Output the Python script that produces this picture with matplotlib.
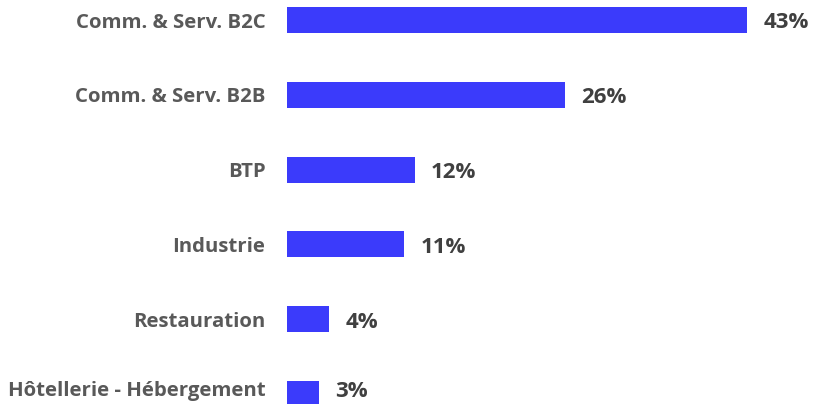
import matplotlib
matplotlib.use("Agg")
import matplotlib.pyplot as plt
from matplotlib.transforms import offset_copy

categories = ["Comm. & Serv. B2C", "Comm. & Serv. B2B", "BTP", "Industrie",
              "Restauration", "Hôtellerie - Hébergement"]
values = [43, 26, 12, 11, 4, 3]
value_labels = ["43%", "26%", "12%", "11%", "4%", "3%"]

plt.rcParams['font.family'] = ['Open Sans', 'DejaVu Sans']

W, H = 815, 404
fig = plt.figure(figsize=(W / 100, H / 100), dpi=100)
px_per_unit = 10.72
xmax = 48
ax = fig.add_axes([286.5 / W, 0, xmax * px_per_unit / W, 1])
ax.set_xlim(0, xmax)
ax.set_ylim((H - 20) / 74.8, -20 / 74.8)

ypos = list(range(len(categories)))
ax.barh(ypos, values, height=26 / 74.8, color="#3b3bfb", edgecolor="none")

n = len(categories)
for i, (cat, v, lab) in enumerate(zip(categories, values, value_labels)):
    lift = 5.5 if i == n - 1 else 0
    t1 = offset_copy(ax.transData, fig=fig, x=-21, y=-7.5 + lift, units='dots')
    t2 = offset_copy(ax.transData, fig=fig, x=16, y=-8.5 + lift, units='dots')
    ax.text(0, i, cat, transform=t1, ha='right', va='baseline',
            fontsize=14.7, fontweight='bold', color='#595959')
    ax.text(v, i, lab, transform=t2, ha='left', va='baseline',
            fontsize=16, fontweight='bold', color='#404040')

ax.axis('off')
fig.savefig("out.png", dpi=100)
